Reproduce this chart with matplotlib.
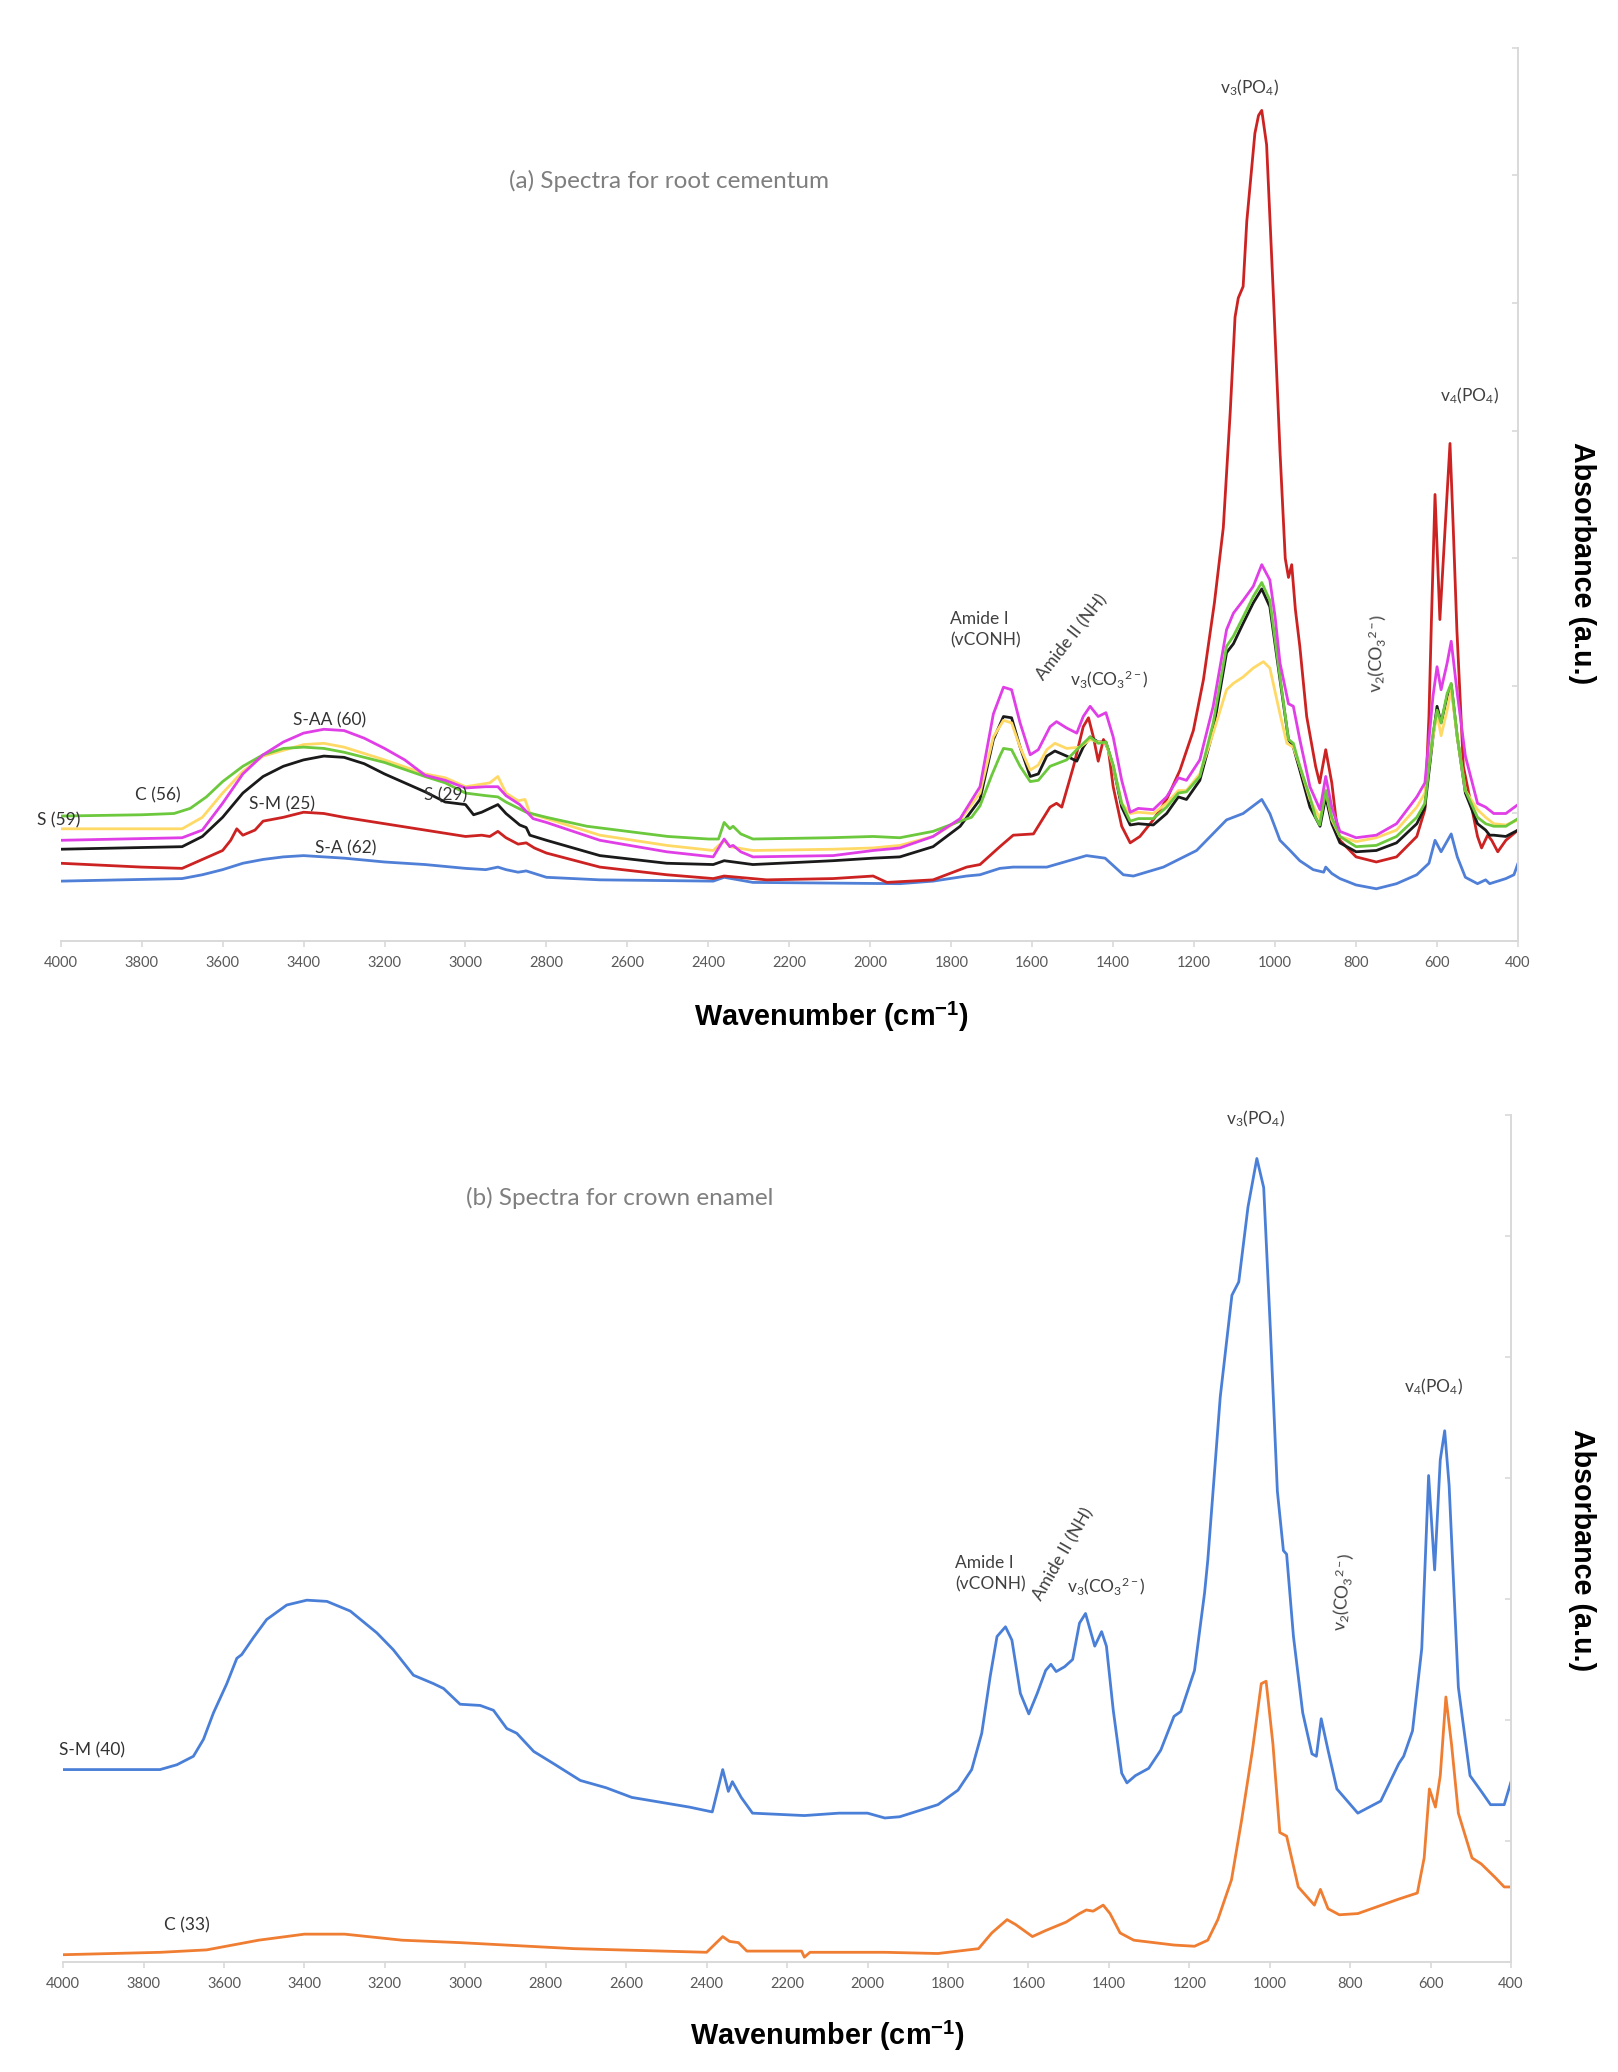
"""
FTIR spectra of root cementum (a) and crown enamel (b)
"""

import matplotlib
matplotlib.use('Agg')
import matplotlib.pyplot as plt

plt.rcParams['font.family'] = ['Lato', 'DejaVu Sans']
plt.rcParams['mathtext.fontset'] = 'custom'
plt.rcParams['mathtext.rm'] = 'Lato'
plt.rcParams['mathtext.it'] = 'Lato:italic'
plt.rcParams['mathtext.bf'] = 'Liberation Sans:bold'

# ---------------- (a) root cementum ----------------
green_wn = [4000, 3800, 3720, 3680, 3640, 3600, 3550, 3500, 3450, 3400, 3350, 3300, 3200, 3100, 3050,
            3000, 2950, 2920, 2900, 2850, 2800, 2700, 2600, 2500, 2400, 2375, 2361, 2347, 2339, 2320,
            2290, 2100, 1993, 1927, 1845, 1778, 1750, 1729, 1700, 1680, 1671, 1651, 1630, 1605, 1585,
            1556, 1515, 1490, 1457, 1437, 1418, 1400, 1379, 1358, 1338, 1301, 1268, 1239, 1219, 1186,
            1153, 1120, 1103, 1079, 1054, 1033, 1013, 988, 967, 955, 939, 914, 900, 890, 875, 860, 840,
            800, 750, 700, 650, 630, 610, 600, 590, 575, 565, 550, 530, 500, 480, 460, 430, 400]
green_ab = [0.98, 0.99, 1.00, 1.04, 1.13, 1.25, 1.37, 1.46, 1.51, 1.52, 1.51, 1.48, 1.40, 1.29, 1.24,
            1.16, 1.14, 1.13, 1.09, 1.01, 0.97, 0.90, 0.86, 0.82, 0.80, 0.80, 0.93, 0.88, 0.90, 0.84,
            0.80, 0.81, 0.82, 0.81, 0.86, 0.94, 0.97, 1.06, 1.30, 1.45, 1.51, 1.50, 1.37, 1.25, 1.26,
            1.37, 1.42, 1.50, 1.60, 1.55, 1.56, 1.38, 1.08, 0.94, 0.96, 0.96, 1.05, 1.16, 1.17, 1.29,
            1.71, 2.31, 2.39, 2.54, 2.70, 2.81, 2.67, 2.07, 1.58, 1.55, 1.37, 1.13, 0.97, 0.91, 1.18, 0.97, 0.82,
            0.74, 0.75, 0.82, 0.97, 1.08, 1.63, 1.81, 1.71, 1.94, 2.02, 1.60, 1.18, 0.97, 0.92, 0.90, 0.90, 0.96]

magenta_wn = [4000, 3700, 3650, 3600, 3550, 3500, 3450, 3400, 3350, 3300, 3250, 3200, 3150, 3100, 3050,
              3000, 2950, 2920, 2900, 2866, 2833, 2800, 2668, 2503, 2388, 2361, 2347, 2339, 2320, 2290,
              2092, 1993, 1927, 1845, 1778, 1729, 1696, 1671, 1651, 1630, 1605, 1585, 1556, 1540, 1515,
              1490, 1474, 1457, 1437, 1418, 1400, 1379, 1358, 1338, 1301, 1268, 1239, 1219, 1186, 1153,
              1120, 1103, 1079, 1054, 1033, 1013, 1000, 988, 967, 955, 939, 914, 889, 875, 860, 840, 800,
              750, 700, 650, 630, 610, 600, 590, 575, 565, 550, 530, 500, 480, 460, 430, 400]
magenta_ab = [0.79, 0.81, 0.87, 1.08, 1.31, 1.46, 1.56, 1.63, 1.66, 1.65, 1.59, 1.51, 1.42, 1.30, 1.26,
              1.20, 1.21, 1.21, 1.14, 1.07, 0.96, 0.93, 0.79, 0.70, 0.66, 0.80, 0.74, 0.75, 0.70, 0.66,
              0.67, 0.71, 0.73, 0.82, 0.96, 1.21, 1.78, 1.99, 1.97, 1.71, 1.46, 1.50, 1.68, 1.72, 1.67,
              1.63, 1.76, 1.84, 1.76, 1.79, 1.60, 1.26, 1.01, 1.04, 1.03, 1.13, 1.28, 1.26, 1.42, 1.84,
              2.44, 2.57, 2.67, 2.78, 2.95, 2.83, 2.54, 2.18, 1.86, 1.84, 1.58, 1.21, 1.03, 1.29, 1.05, 0.86, 0.81,
              0.83, 0.92, 1.13, 1.24, 1.92, 2.15, 1.97, 2.18, 2.35, 1.94, 1.45, 1.08, 1.05, 1.00, 1.00, 1.07]

yellow_wn = [4000, 3700, 3650, 3600, 3550, 3500, 3400, 3350, 3300, 3200, 3100, 3050, 3000, 2940, 2920,
             2900, 2870, 2853, 2841, 2820, 2668, 2503, 2388, 2361, 2347, 2290, 2092, 1993, 1927, 1845,
             1778, 1729, 1696, 1671, 1651, 1630, 1605, 1585, 1564, 1544, 1515, 1482, 1457, 1437, 1418,
             1400, 1379, 1358, 1338, 1301, 1268, 1239, 1219, 1186, 1153, 1120, 1103, 1079, 1054, 1029,
             1013, 988, 971, 955, 939, 914, 889, 875, 860, 840, 800, 750, 700, 650, 630, 610, 600, 590,
             575, 565, 550, 530, 500, 480, 460, 430, 400]
yellow_ab = [0.88, 0.88, 0.97, 1.16, 1.33, 1.45, 1.54, 1.55, 1.52, 1.42, 1.31, 1.28, 1.21, 1.24, 1.29,
             1.16, 1.10, 1.11, 1.00, 0.98, 0.83, 0.75, 0.71, 0.79, 0.74, 0.71, 0.72, 0.73, 0.75, 0.82,
             0.95, 1.16, 1.60, 1.73, 1.71, 1.52, 1.34, 1.38, 1.50, 1.55, 1.51, 1.52, 1.58, 1.56, 1.55,
             1.37, 1.08, 1.00, 1.01, 1.00, 1.08, 1.18, 1.18, 1.31, 1.63, 1.97, 2.02, 2.07, 2.14, 2.19,
             2.14, 1.78, 1.55, 1.52, 1.37, 1.11, 0.96, 1.18, 0.95, 0.82, 0.78, 0.81, 0.87, 1.05, 1.16, 1.60, 1.78, 1.61,
             1.81, 1.97, 1.60, 1.18, 1.03, 0.97, 0.92, 0.91, 0.95]

black_wn = [4000, 3700, 3650, 3600, 3550, 3500, 3450, 3400, 3350, 3300, 3250, 3200, 3100, 3050, 3000,
            2980, 2960, 2920, 2900, 2866, 2850, 2841, 2800, 2668, 2503, 2388, 2361, 2290, 2092, 1993,
            1927, 1845, 1778, 1729, 1696, 1671, 1651, 1630, 1605, 1585, 1564, 1544, 1515, 1490, 1474,
            1457, 1437, 1418, 1400, 1379, 1358, 1338, 1301, 1268, 1239, 1219, 1186, 1153, 1120, 1103,
            1079, 1054, 1033, 1013, 988, 967, 955, 939, 914, 889, 875, 860, 840, 800, 750, 700, 650, 630,
            610, 600, 590, 575, 565, 550, 530, 500, 480, 470, 460, 430, 400]
black_ab = [0.72, 0.74, 0.82, 0.97, 1.16, 1.29, 1.37, 1.42, 1.45, 1.44, 1.39, 1.31, 1.17, 1.09, 1.07,
            0.99, 1.01, 1.07, 1.00, 0.91, 0.89, 0.83, 0.79, 0.67, 0.61, 0.60, 0.63, 0.60, 0.63, 0.65,
            0.66, 0.74, 0.90, 1.11, 1.58, 1.76, 1.75, 1.52, 1.29, 1.31, 1.45, 1.49, 1.45, 1.41, 1.52,
            1.60, 1.56, 1.56, 1.37, 1.05, 0.91, 0.92, 0.91, 1.00, 1.13, 1.11, 1.26, 1.65, 2.26, 2.33,
            2.49, 2.65, 2.76, 2.62, 2.05, 1.58, 1.52, 1.34, 1.05, 0.90, 1.13, 0.92, 0.77, 0.70, 0.71, 0.77, 0.92, 1.05,
            1.60, 1.84, 1.71, 1.92, 2.01, 1.60, 1.16, 0.92, 0.87, 0.83, 0.83, 0.82, 0.87]

red_wn = [4000, 3800, 3700, 3650, 3600, 3580, 3565, 3550, 3520, 3500, 3450, 3400, 3350, 3300, 3200,
          3100, 3000, 2960, 2940, 2920, 2900, 2870, 2850, 2830, 2800, 2668, 2503, 2388, 2361, 2256,
          2092, 1993, 1959, 1845, 1762, 1729, 1680, 1647, 1597, 1556, 1540, 1527, 1498, 1474, 1461,
          1449, 1437, 1424, 1412, 1400, 1379, 1358, 1334, 1301, 1268, 1235, 1202, 1177, 1150, 1128,
          1111, 1099, 1091, 1079, 1070, 1050, 1041, 1033, 1021, 1004, 988, 975, 967, 959, 950, 939,
          922, 900, 890, 875, 860, 850, 840, 800, 750, 700, 650, 630, 620, 614, 605, 593, 580, 568,
          560, 551, 535, 500, 490, 475, 465, 450, 430, 400]
red_ab = [0.61, 0.58, 0.57, 0.64, 0.71, 0.79, 0.88, 0.83, 0.87, 0.94, 0.97, 1.01, 1.00, 0.97, 0.92,
          0.87, 0.82, 0.83, 0.82, 0.86, 0.81, 0.76, 0.77, 0.73, 0.69, 0.58, 0.52, 0.49, 0.51, 0.48,
          0.49, 0.51, 0.46, 0.48, 0.58, 0.60, 0.74, 0.83, 0.84, 1.05, 1.08, 1.05, 1.37, 1.68, 1.75,
          1.60, 1.41, 1.58, 1.50, 1.21, 0.90, 0.77, 0.82, 0.95, 1.11, 1.34, 1.65, 2.05, 2.65, 3.24,
          4.14, 4.89, 5.04, 5.13, 5.64, 6.33, 6.47, 6.51, 6.24, 5.04, 3.84, 3.00, 2.85, 2.95, 2.60, 2.31,
          1.76, 1.37, 1.24, 1.50, 1.24, 0.97, 0.79, 0.66, 0.62, 0.66, 0.82, 1.03, 1.76, 2.50, 3.50, 2.52, 3.24, 3.90,
          3.24, 2.44, 1.37, 0.82, 0.73, 0.83, 0.79, 0.70, 0.79, 0.87]

blue_wn = [4000, 3700, 3650, 3600, 3550, 3500, 3450, 3400, 3300, 3200, 3100, 3000, 2950, 2920, 2900,
           2870, 2850, 2800, 2668, 2388, 2361, 2290, 1927, 1845, 1762, 1729, 1680, 1647, 1564, 1466,
           1420, 1375, 1350, 1276, 1194, 1120, 1079, 1033, 1013, 988, 963, 939, 906, 880, 875, 860,
           840, 800, 750, 700, 650, 620, 605, 590, 565, 550, 530, 500, 480, 470, 450, 430, 410, 400]
blue_ab = [0.47, 0.49, 0.52, 0.56, 0.61, 0.64, 0.66, 0.67, 0.65, 0.62, 0.60, 0.57, 0.56, 0.58, 0.56,
           0.54, 0.55, 0.50, 0.48, 0.47, 0.50, 0.46, 0.45, 0.47, 0.51, 0.52, 0.57, 0.58, 0.58, 0.67,
           0.65, 0.52, 0.51, 0.58, 0.71, 0.95, 1.00, 1.11, 1.00, 0.79, 0.71, 0.63, 0.56, 0.54, 0.58, 0.53,
           0.49, 0.44, 0.41, 0.45, 0.52, 0.61, 0.79, 0.70, 0.84, 0.66, 0.50, 0.45, 0.48, 0.45, 0.47, 0.49, 0.52, 0.61]

# ---------------- (b) crown enamel ----------------
sm40_wn = [4000, 3759, 3717, 3676, 3651, 3626, 3593, 3568, 3556, 3527, 3494, 3444, 3394, 3344, 3286,
           3220, 3179, 3129, 3079, 3054, 3013, 2963, 2930, 2897, 2872, 2830, 2781, 2714, 2650, 2586,
           2443, 2386, 2360, 2346, 2336, 2314, 2286, 2157, 2071, 2000, 1957, 1920, 1825, 1775, 1741,
           1716, 1695, 1678, 1657, 1641, 1620, 1599, 1578, 1557, 1544, 1531, 1510, 1490, 1473, 1458,
           1435, 1418, 1406, 1389, 1368, 1355, 1334, 1301, 1271, 1238, 1221, 1187, 1162, 1154, 1123,
           1094, 1077, 1054, 1032, 1015, 998, 981, 966, 958, 941, 918, 895, 884, 872, 855,
           833, 781, 724, 679, 667, 645, 622, 605, 590, 576, 565, 554, 531, 502, 474,
           451, 417, 400]
sm40_ab = [1.59, 1.59, 1.63, 1.70, 1.84, 2.06, 2.30, 2.51, 2.54, 2.68, 2.83, 2.95, 2.99, 2.98, 2.90,
           2.72, 2.58, 2.37, 2.30, 2.26, 2.13, 2.12, 2.08, 1.93, 1.89, 1.74, 1.64, 1.50, 1.44, 1.36,
           1.28, 1.24, 1.59, 1.41, 1.49, 1.36, 1.23, 1.21, 1.23, 1.23, 1.19, 1.20, 1.30, 1.42, 1.59,
           1.89, 2.36, 2.69, 2.77, 2.66, 2.22, 2.05, 2.22, 2.41, 2.46, 2.40, 2.44, 2.50, 2.80, 2.88,
           2.61, 2.73, 2.61, 2.08, 1.56, 1.48, 1.54, 1.60, 1.75, 2.03, 2.07, 2.41, 3.05, 3.32, 4.67,
           5.51, 5.62, 6.24, 6.64, 6.40, 5.20, 3.89, 3.40, 3.37, 2.69, 2.06, 1.72, 1.70, 2.01, 1.75,
           1.43, 1.23, 1.33, 1.64, 1.70, 1.91, 2.59, 4.02, 3.24, 4.15, 4.39, 3.94, 2.27, 1.54, 1.41,
           1.30, 1.30, 1.49]

c33_wn = [4000, 3757, 3643, 3514, 3400, 3300, 3157, 3014, 2729, 2400, 2360, 2343, 2321, 2300, 2164,
          2157, 2143, 1957, 1825, 1724, 1691, 1653, 1632, 1590, 1557, 1506, 1473, 1456, 1439, 1414,
          1397, 1372, 1338, 1238, 1187, 1154, 1129, 1095, 1070, 1043, 1021, 1009, 992, 975, 958,
          929, 889, 874, 855, 827, 781, 679, 633, 616, 603, 588, 576, 562, 548, 531,
          497, 474, 440, 417, 400]
c33_ab = [0.06, 0.08, 0.10, 0.18, 0.23, 0.23, 0.18, 0.16, 0.11, 0.08, 0.21, 0.17, 0.16, 0.09, 0.09,
          0.04, 0.08, 0.08, 0.07, 0.11, 0.24, 0.35, 0.31, 0.21, 0.26, 0.33, 0.40, 0.43, 0.42, 0.47,
          0.40, 0.24, 0.18, 0.14, 0.13, 0.18, 0.35, 0.68, 1.17, 1.75, 2.30, 2.32, 1.80, 1.07, 1.04,
          0.62, 0.47, 0.60, 0.44, 0.39, 0.40, 0.52, 0.57, 0.86, 1.43, 1.28, 1.54, 2.19, 1.80, 1.23,
          0.86, 0.81, 0.70, 0.62, 0.62]

wn_ticks = list(range(4000, 399, -200))
axis_grey = '#d9d9d9'
note_col = '#404040'

fig = plt.figure(figsize=(16.18, 20.72), dpi=100)
ax1 = fig.add_axes([0.0375, 0.5458, 0.9007, 0.4311])
ax2 = fig.add_axes([0.0390, 0.0531, 0.8949, 0.4088])


def style(ax):
    ax.set_xlim(4000, 400)
    ax.set_ylim(0, 7)
    for s in ['left', 'top']:
        ax.spines[s].set_visible(False)
    for s in ['bottom', 'right']:
        ax.spines[s].set_color(axis_grey)
        ax.spines[s].set_linewidth(1.4)
    ax.set_xticks(wn_ticks)
    ax.tick_params(axis='x', colors=axis_grey, labelcolor='#595959', labelsize=10.5,
                   length=4, width=1.2, pad=7)
    ax.yaxis.tick_right()
    ax.set_yticks(range(0, 8))
    ax.tick_params(axis='y', direction='in', length=4, width=1.2, colors=axis_grey,
                   labelright=False, labelleft=False)


style(ax1)
style(ax2)

kw = dict(lw=2.0, solid_joinstyle='round', solid_capstyle='round')
ax1.plot(blue_wn, blue_ab, color='#4f7fd6', **kw)
ax1.plot(red_wn, red_ab, color='#cc2222', **kw)
ax1.plot(black_wn, black_ab, color='#1a1a1a', **kw)
ax1.plot(yellow_wn, yellow_ab, color='#ffd966', **kw)
ax1.plot(green_wn, green_ab, color='#6cc83c', **kw)
ax1.plot(magenta_wn, magenta_ab, color='#e03ee6', **kw)

ax2.plot(sm40_wn, sm40_ab, color='#4a7fd8', **kw)
ax2.plot(c33_wn, c33_ab, color='#ef7d32', **kw)

# (a) annotations
ax1.text(2497, 5.96, '(a) Spectra for root cementum', color='#7f7f7f', fontsize=17.5,
         ha='center', va='center')
ax1.text(1062, 6.69, r'v$_3$(PO$_4$)', color=note_col, fontsize=12.5, ha='center', va='center')
ax1.text(519, 4.27, r'v$_4$(PO$_4$)', color=note_col, fontsize=12.5, ha='center', va='center')
ax1.text(1803, 2.44, 'Amide I\n(vCONH)', color=note_col, fontsize=12.5, ha='left', va='center',
         linespacing=1.45)
ax1.text(1502, 2.38, 'Amide II (NH)', color=note_col, fontsize=12.5, rotation=52,
         ha='center', va='center')
ax1.text(1410, 2.05, r'v$_3$(CO$_3$$^{2-}$)', color=note_col, fontsize=12.5, ha='center', va='center')
ax1.text(750, 2.26, r'v$_2$(CO$_3$$^{2-}$)', color=note_col, fontsize=12.5, rotation=88,
         ha='center', va='center')
for label, wn, ab in [('S-AA (60)', 3337, 1.73), ('C (56)', 3760, 1.14), ('S (59)', 4005, 0.95),
                      ('S-M (25)', 3454, 1.07), ('S (29)', 3050, 1.14), ('S-A (62)', 3295, 0.73)]:
    ax1.text(wn, ab, label, color='#333333', fontsize=12.5, ha='center', va='center')

# (b) annotations
ax2.text(2615, 6.31, '(b) Spectra for crown enamel', color='#7f7f7f', fontsize=17.5,
         ha='center', va='center')
ax2.text(1035, 6.97, r'v$_3$(PO$_4$)', color=note_col, fontsize=12.5, ha='center', va='center')
ax2.text(592, 4.75, r'v$_4$(PO$_4$)', color=note_col, fontsize=12.5, ha='center', va='center')
ax2.text(1782, 3.21, 'Amide I\n(vCONH)', color=note_col, fontsize=12.5, ha='left', va='center',
         linespacing=1.45)
ax2.text(1514, 3.37, 'Amide II (NH)', color=note_col, fontsize=12.5, rotation=60,
         ha='center', va='center')
ax2.text(1405, 3.11, r'v$_3$(CO$_3$$^{2-}$)', color=note_col, fontsize=12.5, ha='center', va='center')
ax2.text(818, 3.06, r'v$_2$(CO$_3$$^{2-}$)', color=note_col, fontsize=12.5, rotation=85,
         ha='center', va='center')
ax2.text(3928, 1.75, 'S-M (40)', color='#333333', fontsize=12.5, ha='center', va='center')
ax2.text(3693, 0.30, 'C (33)', color='#333333', fontsize=12.5, ha='center', va='center')

# axis titles
for x, y in [(831, 1017), (827, 2036)]:
    fig.text(x / 1618, 1 - y / 2072, r'Wavenumber (cm$^{\mathbf{-1}}$)', fontsize=20.8,
             fontweight='bold', family='Liberation Sans', ha='center', va='center')
for y in [563, 1550]:
    fig.text(1582 / 1618, 1 - y / 2072, 'Absorbance (a.u.)', fontsize=20.6, fontweight='bold',
             family='Liberation Sans', rotation=270, ha='center', va='center')

plt.savefig('out.png', dpi=100)
